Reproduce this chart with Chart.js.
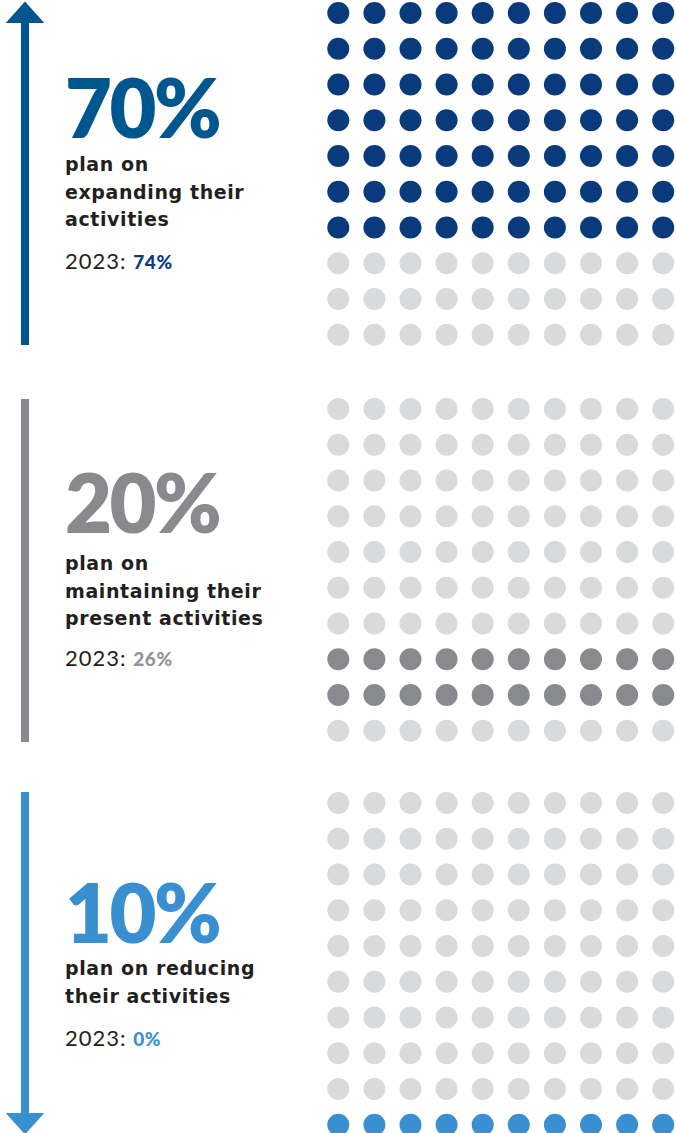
<!DOCTYPE html>
<html>
<head>
<meta charset="utf-8">
<script src="https://cdn.jsdelivr.net/npm/chart.js@4"></script>
<style>
  html, body { margin: 0; padding: 0; background: #fff; width: 676px; height: 1133px; overflow: hidden; }
  #page { position: relative; width: 676px; height: 1133px; overflow: hidden; }
  canvas.waffle { position: absolute; }
  #labels { position: absolute; left: 0; top: 0; }
</style>
</head>
<body>
<div id="page">
  <svg id="labels" width="676" height="1133" xmlns="http://www.w3.org/2000/svg"></svg>
</div>
<script>
// Planned direction of activities: share of respondents (out of 100 dots)
const groups = ['expanding', 'maintaining', 'reducing'];
const share2024 = [70, 20, 10];
const share2023 = [74, 26, 0];
const previousYear = '2023';
const descriptionLines = [
  ['plan on', 'expanding their', 'activities'],
  ['plan on', 'maintaining their', 'present activities'],
  ['plan on reducing', 'their activities']
];
// row (0 = top) where the highlighted dots of each block begin
const firstHighlightRow = [0, 7, 9];

// colours
const dotColors = ['#083a7c', '#898a8d', '#3a8fd0'];
const headlineColors = ['#00578f', '#898a8d', '#3a8fd0'];
const previousColors = ['#0b3b7e', '#939498', '#3a8fd0'];
const railColors = ['#00568d', '#898a8d', '#3a8fd0'];
const emptyDot = '#d9dadc';
const bodyText = '#231f20';

// geometry of the 10 x 10 dot grids
const GRID = 10;
const colStep = 36.1;
const rowStep = 35.75;
const firstColX = 338.3;
const firstRowY = [12.5, 409, 803];
const canvasLeft = 320;
const canvasW = 356;
const canvasH = 358;
const dotRadius = 11;

const page = document.getElementById('page');

groups.forEach((name, g) => {
  const highlighted = [];
  const rest = [];
  const start = firstHighlightRow[g] * GRID;
  for (let i = 0; i < GRID * GRID; i++) {
    const pt = { x: (i % GRID) + 1, y: Math.floor(i / GRID) + 1 };
    if (i >= start && i < start + share2024[g]) highlighted.push(pt);
    else rest.push(pt);
  }

  const canvas = document.createElement('canvas');
  canvas.className = 'waffle';
  canvas.width = canvasW;
  canvas.height = canvasH;
  canvas.style.left = canvasLeft + 'px';
  const top = firstRowY[g] - 18;
  canvas.style.top = top + 'px';
  page.appendChild(canvas);

  const padLeft = firstColX - canvasLeft;
  const padRight = canvasW - padLeft - (GRID - 1) * colStep;
  const padTop = firstRowY[g] - top;
  const padBottom = canvasH - padTop - (GRID - 1) * rowStep;

  const dotStyle = {
    pointRadius: dotRadius,
    pointHoverRadius: dotRadius,
    pointBorderWidth: 0,
    pointHoverBorderWidth: 0,
    pointStyle: 'circle',
    showLine: false,
    clip: false
  };

  new Chart(canvas, {
    type: 'scatter',
    data: {
      datasets: [
        Object.assign({ label: name, data: highlighted, backgroundColor: dotColors[g] }, dotStyle),
        Object.assign({ label: 'other', data: rest, backgroundColor: emptyDot }, dotStyle)
      ]
    },
    options: {
      responsive: false,
      animation: false,
      events: [],
      layout: { padding: { left: padLeft, right: padRight, top: padTop, bottom: padBottom } },
      scales: {
        x: { type: 'linear', min: 1, max: GRID, display: false },
        y: { type: 'linear', min: 1, max: GRID, reverse: true, display: false }
      },
      plugins: { legend: { display: false }, tooltip: { enabled: false } }
    }
  });
});

// ----- side labels and rails -----
const svg = document.getElementById('labels');
const NS = 'http://www.w3.org/2000/svg';

function el(tag, attrs) {
  const e = document.createElementNS(NS, tag);
  for (const k in attrs) e.setAttribute(k, attrs[k]);
  svg.appendChild(e);
  return e;
}

function textLine(x, y, parts) {
  const t = el('text', { x: x, y: y });
  parts.forEach(p => {
    const s = document.createElementNS(NS, 'tspan');
    s.setAttribute('font-family', p.family);
    s.setAttribute('font-size', p.size);
    s.setAttribute('font-weight', p.weight);
    s.setAttribute('fill', p.fill);
    if (p.spacing) s.setAttribute('letter-spacing', p.spacing);
    s.textContent = p.text;
    t.appendChild(s);
  });
  return t;
}

const textX = 65;
const headlineBase = [138, 533, 943];
const descBase = [171, 570, 975];
const descStep = 27.5;
const prevBase = [269, 666, 1046];

groups.forEach((name, g) => {
  textLine(textX, headlineBase[g], [{
    text: share2024[g] + '%', family: 'Lato', size: 81, weight: 800,
    fill: headlineColors[g], spacing: -2.5
  }]);
  descriptionLines[g].forEach((line, i) => {
    textLine(textX, descBase[g] + i * descStep, [{
      text: line, family: 'DejaVu Sans', size: 19, weight: 700,
      fill: bodyText, spacing: 0.6
    }]);
  });
  textLine(textX, prevBase[g], [
    { text: previousYear + ': ', family: 'Lato', size: 22, weight: 400, fill: bodyText, spacing: 1 },
    { text: share2023[g] + '%', family: 'Lato', size: 19, weight: 900, fill: previousColors[g], spacing: 0.6 }
  ]);
});

// rails: up arrow, plain bar, down arrow
el('rect', { x: 21, y: 20, width: 8, height: 325, fill: railColors[0] });
el('polygon', { points: '5.7,23 44.3,23 25,1.5', fill: railColors[0] });
el('rect', { x: 21, y: 399, width: 8, height: 343, fill: railColors[1] });
el('rect', { x: 21, y: 792, width: 8, height: 325, fill: railColors[2] });
el('polygon', { points: '5.7,1113 44.3,1113 25,1134.5', fill: railColors[2] });
</script>
</body>
</html>
